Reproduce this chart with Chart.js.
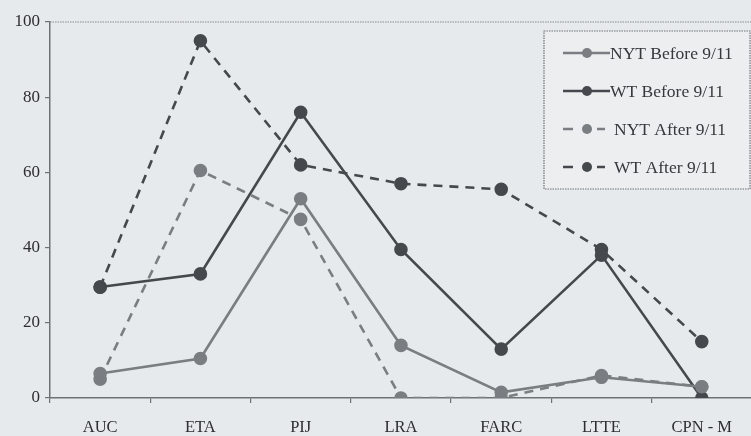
<!DOCTYPE html>
<html><head><meta charset="utf-8">
<script src="https://cdn.jsdelivr.net/npm/chart.js@4/dist/chart.umd.min.js"></script>
<style>
html,body{margin:0;padding:0;overflow:hidden;background:#e7eaed;width:751px;height:436px}
canvas{display:block}
</style></head>
<body>
<canvas id="c" width="760" height="436"></canvas>
<script>
const categories = ["AUC","ETA","PIJ","LRA","FARC","LTTE","CPN - M"];
const nytBefore = [6.5, 10.5, 53, 14, 1.5, 5.5, 3];
const wtBefore  = [29.5, 33, 76, 39.5, 13, 38, 0];
const nytAfter  = [5, 60.5, 47.5, 0, 0, 6, 3];
const wtAfter   = [29.5, 95, 62, 57, 55.5, 39.5, 15];
const seriesLabels = ["NYT Before 9/11","WT Before 9/11","NYT After 9/11","WT After 9/11"];
const yTicks = [0,20,40,60,80,100];

const DARK = '#45484c', GRAY = '#7a7d81';
const SERIF = '"Liberation Serif", "Times New Roman", serif';

function ds(label, data, color, dash){
  return {label, data, borderColor: color, backgroundColor: color, pointBackgroundColor: color,
    pointBorderColor: color, borderWidth: 2.6, pointRadius: 5.5, borderDash: dash, tension: 0};
}

const legendPlugin = {
  id: 'boxLegend',
  afterDraw(chart){
    const ctx = chart.ctx;
    const a = chart.chartArea;
    ctx.save();
    ctx.strokeStyle = '#8a8d90'; ctx.lineWidth = 1.2; ctx.setLineDash([1.5,1]);
    ctx.beginPath(); ctx.moveTo(a.left, a.top); ctx.lineTo(760, a.top); ctx.stroke();
    const bx = 544, by = 31, bw = 206, bh = 158;
    ctx.fillStyle = '#eceef0';
    ctx.fillRect(bx, by, bw, bh);
    ctx.strokeStyle = '#6f7275'; ctx.lineWidth = 1.2; ctx.setLineDash([1.5,1]);
    ctx.strokeRect(bx, by, bw, bh);
    ctx.setLineDash([]);
    const ys = [53, 91, 129, 167];
    ctx.font = '17.5px ' + SERIF;
    ctx.textBaseline = 'middle';
    chart.data.datasets.forEach((d, i) => {
      const y = ys[i];
      const dashed = d.borderDash && d.borderDash.length;
      ctx.strokeStyle = d.borderColor; ctx.lineWidth = 2.5;
      if (dashed) {
        ctx.beginPath(); ctx.moveTo(563, y); ctx.lineTo(573, y); ctx.stroke();
        ctx.beginPath(); ctx.moveTo(597, y); ctx.lineTo(605, y); ctx.stroke();
      } else {
        ctx.beginPath(); ctx.moveTo(563, y); ctx.lineTo(610, y); ctx.stroke();
      }
      ctx.fillStyle = d.borderColor;
      ctx.beginPath(); ctx.arc(587, y, 5, 0, Math.PI*2); ctx.fill();
      ctx.fillStyle = '#36383b';
      ctx.fillText(d.label, dashed ? 614 : 610, y + 1);
    });
    ctx.restore();
  }
};

new Chart(document.getElementById('c'), {
  type: 'line',
  data: {
    labels: categories,
    datasets: [
      ds(seriesLabels[0], nytBefore, GRAY, []),
      ds(seriesLabels[1], wtBefore, DARK, []),
      ds(seriesLabels[2], nytAfter, GRAY, [9, 7]),
      ds(seriesLabels[3], wtAfter, DARK, [9, 7])
    ]
  },
  options: {
    responsive: false,
    animation: false,
    layout: {padding: {top: 22, right: 3, bottom: 2, left: 0}},
    plugins: {legend: {display: false}, tooltip: {enabled: false}},
    scales: {
      x: {
        type: 'category',
        offset: true,
        afterFit(s){ s.height = 36; },
        border: {display: true, color: '#6f7275', width: 1.5},
        grid: {display: true, drawOnChartArea: false, offset: true, tickLength: 5, color: '#6f7275', lineWidth: 1.2},
        ticks: {color: '#2c2e31', padding: 15, font: {family: SERIF, size: 16.5}}
      },
      y: {
        min: 0, max: 100,
        afterFit(s){ s.width = 50; },
        afterBuildTicks(s){ s.ticks = yTicks.map(v => ({value: v})); },
        border: {display: true, color: '#6f7275', width: 1.5},
        grid: {display: true, drawOnChartArea: false, tickLength: 5, color: '#6f7275', lineWidth: 1.2},
        ticks: {color: '#2c2e31', padding: 5, font: {family: SERIF, size: 17}}
      }
    }
  },
  plugins: [legendPlugin]
});
</script>
</body></html>
